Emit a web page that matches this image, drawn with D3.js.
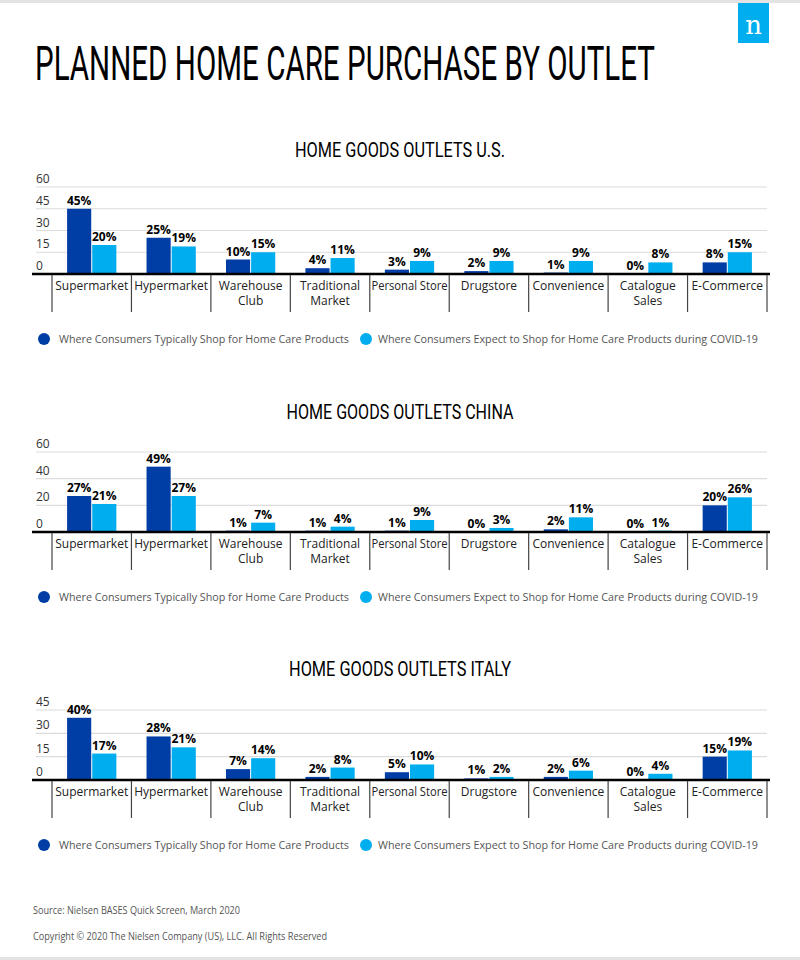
<!DOCTYPE html>
<html><head><meta charset="utf-8">
<script src="https://cdn.jsdelivr.net/npm/d3@7"></script>
<style>
body{margin:0;background:#fff;}
svg{display:block;font-family:"Open Sans",sans-serif;}
</style></head>
<body><svg id="c" width="800" height="960"></svg>
<script>
const categories = ["Supermarket","Hypermarket","Warehouse Club","Traditional Market","Personal Store","Drugstore","Convenience","Catalogue Sales","E-Commerce"];
const categoryLines = [["Supermarket"],["Hypermarket"],["Warehouse","Club"],["Traditional","Market"],["Personal Store"],["Drugstore"],["Convenience"],["Catalogue","Sales"],["E-Commerce"]];
const seriesNames = ["Where Consumers Typically Shop for Home Care Products","Where Consumers Expect to Shop for Home Care Products during COVID-19"];
const usTypical = [45,25,10,4,3,2,1,0,8];
const usCovid   = [20,19,15,11,9,9,9,8,15];
const cnTypical = [27,49,1,1,1,0,2,0,20];
const cnCovid   = [21,27,7,4,9,3,11,1,26];
const itTypical = [40,28,7,2,5,1,2,0,15];
const itCovid   = [17,21,14,8,10,2,6,4,19];
const usTicks = [0,15,30,45,60];
const cnTicks = [0,20,40,60];
const itTicks = [0,15,30,45];

const colors = ["#003DA5","#00AEEF"];
const svg = d3.select("#c");

// top/bottom bars
svg.append("rect").attr("x",0).attr("y",0).attr("width",800).attr("height",3).attr("fill","#e3e3e3");
svg.append("rect").attr("x",0).attr("y",957).attr("width",800).attr("height",3).attr("fill","#e3e3e3");

// logo
svg.append("rect").attr("x",738).attr("y",3).attr("width",31).attr("height",40).attr("fill","#00AEEF");
svg.append("text").attr("x",753.5).attr("y",34).attr("text-anchor","middle")
  .attr("font-family","DejaVu Serif, serif").attr("font-size",26).attr("fill","#fff").text("n");

// title
svg.append("text").attr("x",35).attr("y",80)
  .attr("font-family","Roboto, sans-serif").attr("font-weight",400).attr("font-size",48)
  .attr("textLength",620).attr("lengthAdjust","spacingAndGlyphs").attr("fill","#000")
  .text("PLANNED HOME CARE PURCHASE BY OUTLET");

const charts = [
  {title:"HOME GOODS OUTLETS U.S.", titleY:157, titleW:210, a:usTypical, b:usCovid, ticks:usTicks, top:187, base:274, legendY:339},
  {title:"HOME GOODS OUTLETS CHINA", titleY:419, titleW:227, a:cnTypical, b:cnCovid, ticks:cnTicks, top:452, base:532, legendY:597},
  {title:"HOME GOODS OUTLETS ITALY", titleY:676, titleW:222, a:itTypical, b:itCovid, ticks:itTicks, top:710, base:780, legendY:845}
];

const x0 = d3.scaleBand().domain(categories).range([52,767]).paddingInner(0);
const bw = x0.bandwidth();
const x1 = d3.scaleBand().domain([0,1]).range([bw*0.19, bw*0.81]).paddingInner(0.04);

charts.forEach(ch => {
  const g = svg.append("g");
  g.append("text").attr("x",400).attr("y",ch.titleY).attr("text-anchor","middle")
    .attr("font-family","Roboto, sans-serif").attr("font-weight",400).attr("font-size",20)
    .attr("textLength",ch.titleW).attr("lengthAdjust","spacingAndGlyphs").attr("fill","#000")
    .text(ch.title);

  const maxT = d3.max(ch.ticks);
  const y = d3.scaleLinear().domain([0,maxT]).range([ch.base, ch.top]);

  ch.ticks.forEach(t => {
    if (t>0) g.append("line").attr("x1",36).attr("x2",767).attr("y1",y(t)).attr("y2",y(t))
      .attr("stroke","#dcdcdc").attr("stroke-width",1.2);
    g.append("text").attr("x",36).attr("y",y(t)-4).attr("font-size",12).attr("fill","#333").text(t);
  });

  const data = categories.map((c,i)=>({c, vals:[ch.a[i], ch.b[i]]}));
  const cg = g.selectAll(".cat").data(data).join("g").attr("transform",d=>`translate(${x0(d.c)},0)`);
  cg.selectAll("rect").data(d=>d.vals.map((v,k)=>({v,k}))).join("rect")
    .attr("x",d=>x1(d.k)).attr("width",x1.bandwidth())
    .attr("y",d=>y(d.v)).attr("height",d=>ch.base-y(d.v))
    .attr("fill",d=>colors[d.k]);
  cg.selectAll("text.v").data(d=>d.vals.map((v,k)=>({v,k}))).join("text").attr("class","v")
    .attr("x",d=>x1(d.k)+x1.bandwidth()/2).attr("y",d=>y(d.v)-4)
    .attr("text-anchor","middle").attr("font-size",12).attr("font-weight",700).attr("fill","#000")
    .text(d=>d.v+"%");

  g.append("line").attr("x1",32).attr("x2",770).attr("y1",ch.base).attr("y2",ch.base)
    .attr("stroke","#000").attr("stroke-width",2.5);

  const divs = categories.map(c=>x0(c)).concat([x0.range()[1]]);
  divs.forEach(xv => {
    g.append("line").attr("x1",xv).attr("x2",xv).attr("y1",ch.base+1).attr("y2",ch.base+38)
      .attr("stroke","#444").attr("stroke-width",1.2);
  });

  categories.forEach((c,i) => {
    const t = g.append("text").attr("x",x0(c)+bw/2).attr("y",ch.base+16)
      .attr("text-anchor","middle").attr("font-size",12).attr("fill","#222");
    categoryLines[i].forEach((ln,j)=>{
      const sp = t.append("tspan").attr("x",x0(c)+bw/2).attr("dy", j===0?0:15).text(ln);
      if (ln.length > 12) sp.attr("textLength", 76).attr("lengthAdjust","spacingAndGlyphs");
    });
  });

  const lg = g.append("g");
  const lx = [44,366], tx = [59,378], tw = [290,380];
  seriesNames.forEach((s,k)=>{
    lg.append("circle").attr("cx",lx[k]).attr("cy",ch.legendY).attr("r",6).attr("fill",colors[k]);
    lg.append("text").attr("x",tx[k]).attr("y",ch.legendY+4).attr("font-size",11).attr("fill","#555")
      .attr("textLength",tw[k]).attr("lengthAdjust","spacingAndGlyphs").text(s);
  });
});

svg.append("text").attr("x",33).attr("y",914).attr("font-size",10).attr("fill","#555")
  .attr("textLength",207).attr("lengthAdjust","spacingAndGlyphs")
  .text("Source: Nielsen BASES Quick Screen, March 2020");
svg.append("text").attr("x",33).attr("y",940).attr("font-size",10).attr("fill","#555")
  .attr("textLength",294).attr("lengthAdjust","spacingAndGlyphs")
  .text("Copyright © 2020 The Nielsen Company (US), LLC. All Rights Reserved");
</script></body></html>
